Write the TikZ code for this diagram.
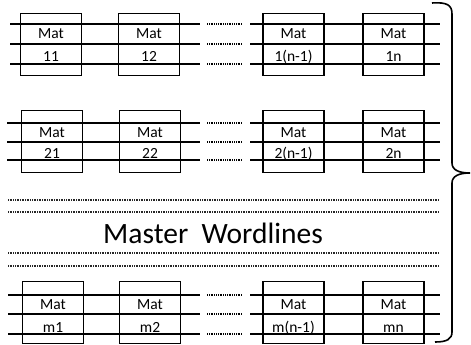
\documentclass[tikz,border=0pt]{standalone}
\usepackage{fontspec}
\setmainfont{Carlito}
\begin{document}
\begin{tikzpicture}[x=1pt,y=-1pt,
  matbox/.style={draw,line width=1.4pt,minimum width=61pt,minimum height=62pt,inner sep=0pt},
  wl/.style={line width=1.4pt},
  dotsline/.style={line width=1.2pt,dash pattern=on 0.8pt off 1pt},
  mwl/.style={line width=1.1pt,dash pattern=on 0.8pt off 0.9pt,black!85},
  lbl/.style={font=\fontsize{15.5}{17}\selectfont,inner sep=0pt,anchor=base},
  bigl/.style={font=\fontsize{29.5}{33}\selectfont,inner sep=0pt}]
\useasboundingbox (0,0) rectangle (471,345);
\foreach \rid/\ty/\ya/\yb/\yc/\xa/\xb/\xs/\ta/\tb/\tc/\td in
  {1/13/24/44/64/51/149/10/11/12/{1(n-1)}/1n,
   2/110/123/142/160/52/150/7/21/22/{2(n-1)}/2n,
   3/281/295/314/334/53/150/8/m1/m2/{m(n-1)}/mn}{
  \node[matbox,anchor=north] (b\rid a) at (\xa,\ty) {};
  \node[matbox,anchor=north] (b\rid b) at (\xb,\ty) {};
  \node[matbox,anchor=north] (b\rid c) at (293.5,\ty) {};
  \node[matbox,anchor=north] (b\rid d) at (393.5,\ty) {};
  \foreach \k/\yy in {a/\ya,b/\yb,c/\yc}{
    \coordinate (s\rid\k) at (\xs,\yy);
    \coordinate (e\rid\k) at (200,\yy);
    \coordinate (p\rid\k) at (207,\yy);
    \coordinate (q\rid\k) at (242,\yy);
    \coordinate (u\rid\k) at (250,\yy);
    \coordinate (v\rid\k) at (440,\yy);
    \draw[wl] (s\rid\k) -- (e\rid\k);
    \draw[dotsline] (p\rid\k) -- (q\rid\k);
    \draw[wl] (u\rid\k) -- (v\rid\k);
  }
  \node[lbl] (ma\rid) at (\xa,\yb-5) {Mat};
  \node[lbl] (mb\rid) at (\xb,\yb-5) {Mat};
  \node[lbl] (mc\rid) at (293.5,\yb-5) {Mat};
  \node[lbl] (md\rid) at (393.5,\yb-5) {Mat};
  \node[lbl] (na\rid) at (\xa,\yc-2) {\ta};
  \node[lbl] (nb\rid) at (\xb,\yc-2) {\tb};
  \node[lbl] (nc\rid) at (293.5,\yc-2) {\tc};
  \node[lbl] (nd\rid) at (393.5,\yc-2) {\td};
}
\foreach \i/\yy in {1/200,2/212,3/253,4/266}{
  \coordinate (ml\i) at (8,\yy);
  \coordinate (mr\i) at (439,\yy);
  \draw[mwl] (ml\i) -- (mr\i);
}
\node[bigl] (mw) at (213,233) {Master\ \ Wordlines};
\coordinate (bt) at (432,3);
\coordinate (btip) at (470,173);
\coordinate (bb) at (435,342);
\draw[line width=1.6pt] (bt) .. controls (447,2) and (452,5) .. (452,14)
  -- (452,163) .. controls (452,170) and (459,173) .. (btip)
  .. controls (459,173) and (452,176) .. (452,183)
  -- (452,332) .. controls (452,339) and (447,342) .. (bb);
\end{tikzpicture}
\end{document}
